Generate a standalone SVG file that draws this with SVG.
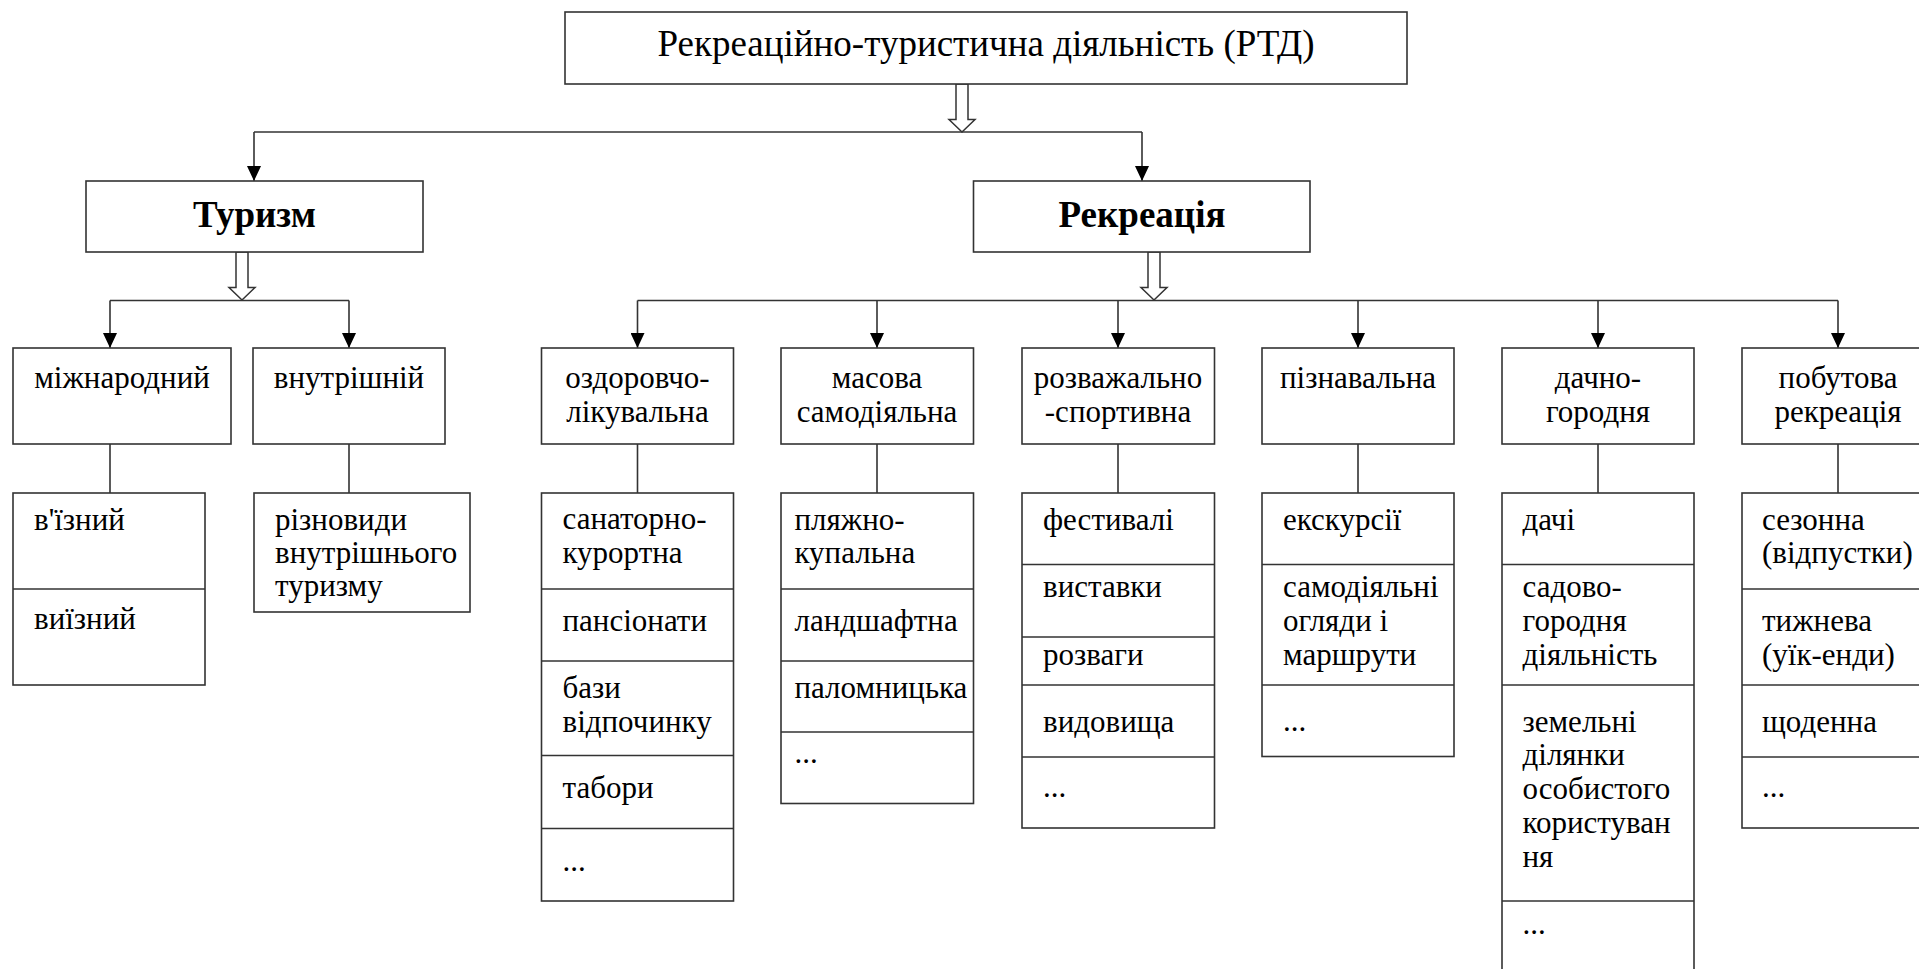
<svg xmlns="http://www.w3.org/2000/svg" width="1919" height="969" viewBox="0 0 1919 969">
<style>
.b{fill:#fff;stroke:#333;stroke-width:1.6}
.l{stroke:#333;stroke-width:1.6;fill:none}
.ha{fill:#fff;stroke:#333;stroke-width:1.5}
text{font-family:"Liberation Serif","DejaVu Serif",serif;font-size:31px;fill:#000}
.c{text-anchor:middle}
.h{font-size:37px}
.hb{font-size:37px;font-weight:bold}
</style>
<defs>
<marker id="ar" viewBox="0 0 15 14" refX="15" refY="7" markerWidth="15" markerHeight="14" markerUnits="userSpaceOnUse" orient="auto">
<path d="M0,0 L15,7 L0,14 Z" fill="#000"/>
</marker>
<path id="hol" d="M-6,0 V35.5 H-13 L0,48 L13,35.5 H6 V0 Z"/>
</defs>
<rect width="1919" height="969" fill="#fff"/>

<g id="connectors">
<use href="#hol" class="ha" x="962" y="84"/>
<use href="#hol" class="ha" x="242" y="252"/>
<use href="#hol" class="ha" x="1154" y="252"/>
<path class="l" d="M254,132 H1142"/>
<path class="l" d="M254,132 V181" marker-end="url(#ar)"/>
<path class="l" d="M1142,132 V181" marker-end="url(#ar)"/>
<path class="l" d="M110,300.5 H349"/>
<path class="l" d="M110,300.5 V348" marker-end="url(#ar)"/>
<path class="l" d="M349,300.5 V348" marker-end="url(#ar)"/>
<path class="l" d="M637.5,300.5 H1838"/>
<path class="l" d="M637.5,300.5 V348" marker-end="url(#ar)"/>
<path class="l" d="M877,300.5 V348" marker-end="url(#ar)"/>
<path class="l" d="M1118,300.5 V348" marker-end="url(#ar)"/>
<path class="l" d="M1358,300.5 V348" marker-end="url(#ar)"/>
<path class="l" d="M1598,300.5 V348" marker-end="url(#ar)"/>
<path class="l" d="M1838,300.5 V348" marker-end="url(#ar)"/>
<path class="l" d="M110,444 V493 M349,444 V493 M637.5,444 V493 M877,444 V493 M1118,444 V493 M1358,444 V493 M1598,444 V493 M1838,444 V493"/>
</g>

<g id="root">
<rect class="b" x="565" y="12" width="842" height="72"/>
<text class="c h" x="986" y="56">Рекреаційно-туристична діяльність (РТД)</text>
</g>

<g id="tourism">
<rect class="b" x="86" y="181" width="337" height="71"/>
<text class="c hb" x="254.5" y="227">Туризм</text>
</g>

<g id="recreation">
<rect class="b" x="973.5" y="181" width="336.5" height="71"/>
<text class="c hb" x="1142" y="227">Рекреація</text>
</g>

<g id="international">
<rect class="b" x="13" y="348" width="218" height="96"/>
<text class="c" x="122" y="387.5">міжнародний</text>
</g>
<g id="domestic">
<rect class="b" x="253" y="348" width="192" height="96"/>
<text class="c" x="349" y="387.5">внутрішній</text>
</g>
<g id="international-list">
<rect class="b" x="13" y="493" width="192" height="192"/>
<path class="l" d="M13,589 H205"/>
<text x="34" y="530">в'їзний</text>
<text x="34" y="629">виїзний</text>
</g>
<g id="domestic-list">
<rect class="b" x="254" y="493" width="216" height="119"/>
<text x="275" y="530">різновиди</text>
<text x="275" y="563">внутрішнього</text>
<text x="275" y="596">туризму</text>
</g>

<g id="health">
<rect class="b" x="541.5" y="348" width="192" height="96"/>
<text class="c" x="637.5" y="388">оздоровчо-</text>
<text class="c" x="637.5" y="422">лікувальна</text>
</g>
<g id="health-list">
<rect class="b" x="541.5" y="493" width="192" height="408"/>
<path class="l" d="M541.5,589 H733.5 M541.5,661 H733.5 M541.5,755.5 H733.5 M541.5,828.5 H733.5"/>
<text x="562.5" y="529">санаторно-</text>
<text x="562.5" y="563">курортна</text>
<text x="562.5" y="631">пансіонати</text>
<text x="562.5" y="697.5">бази</text>
<text x="562.5" y="731.5">відпочинку</text>
<text x="562.5" y="798">табори</text>
<text x="562.5" y="871">...</text>
</g>

<g id="mass">
<rect class="b" x="781" y="348" width="192.5" height="96"/>
<text class="c" x="877" y="388">масова</text>
<text class="c" x="877" y="422">самодіяльна</text>
</g>
<g id="mass-list">
<rect class="b" x="781" y="493" width="192.5" height="310.5"/>
<path class="l" d="M781,589 H973.5 M781,661 H973.5 M781,732 H973.5"/>
<text x="794.5" y="530">пляжно-</text>
<text x="794.5" y="563">купальна</text>
<text x="794.5" y="631">ландшафтна</text>
<text x="794.5" y="697.5">паломницька</text>
<text x="794.5" y="763">...</text>
</g>

<g id="entertainment">
<rect class="b" x="1022" y="348" width="192.5" height="96"/>
<text class="c" x="1118" y="388">розважально</text>
<text class="c" x="1118" y="422">-спортивна</text>
</g>
<g id="entertainment-list">
<rect class="b" x="1022" y="493" width="192.5" height="335"/>
<path class="l" d="M1022,564.5 H1214.5 M1022,637 H1214.5 M1022,685 H1214.5 M1022,757 H1214.5"/>
<text x="1043" y="530">фестивалі</text>
<text x="1043" y="597">виставки</text>
<text x="1043" y="665">розваги</text>
<text x="1043" y="732">видовища</text>
<text x="1043" y="797">...</text>
</g>

<g id="cognitive">
<rect class="b" x="1262" y="348" width="192" height="96"/>
<text class="c" x="1358" y="387.5">пізнавальна</text>
</g>
<g id="cognitive-list">
<rect class="b" x="1262" y="493" width="192" height="263.5"/>
<path class="l" d="M1262,564.5 H1454 M1262,685 H1454"/>
<text x="1283" y="530">екскурсії</text>
<text x="1283" y="597">самодіяльні</text>
<text x="1283" y="631">огляди і</text>
<text x="1283" y="665">маршрути</text>
<text x="1283" y="731">...</text>
</g>

<g id="dacha">
<rect class="b" x="1502" y="348" width="192" height="96"/>
<text class="c" x="1598" y="388">дачно-</text>
<text class="c" x="1598" y="422">городня</text>
</g>
<g id="dacha-list">
<rect class="b" x="1502" y="493" width="192" height="490"/>
<path class="l" d="M1502,564.5 H1694 M1502,685 H1694 M1502,901 H1694"/>
<text x="1522.5" y="530">дачі</text>
<text x="1522.5" y="597">садово-</text>
<text x="1522.5" y="631">городня</text>
<text x="1522.5" y="665">діяльність</text>
<text x="1522.5" y="732">земельні</text>
<text x="1522.5" y="765">ділянки</text>
<text x="1522.5" y="798.5">особистого</text>
<text x="1522.5" y="833">користуван</text>
<text x="1522.5" y="867">ня</text>
<text x="1522.5" y="933.5">...</text>
</g>

<g id="household">
<rect class="b" x="1742" y="348" width="192" height="96"/>
<text class="c" x="1838" y="388">побутова</text>
<text class="c" x="1838" y="422">рекреація</text>
</g>
<g id="household-list">
<rect class="b" x="1742" y="493" width="192" height="335"/>
<path class="l" d="M1742,589 H1934 M1742,685 H1934 M1742,757 H1934"/>
<text x="1762" y="530">сезонна</text>
<text x="1762" y="563">(відпустки)</text>
<text x="1762" y="631">тижнева</text>
<text x="1762" y="665">(уїк-енди)</text>
<text x="1762" y="732">щоденна</text>
<text x="1762" y="797">...</text>
</g>
</svg>
